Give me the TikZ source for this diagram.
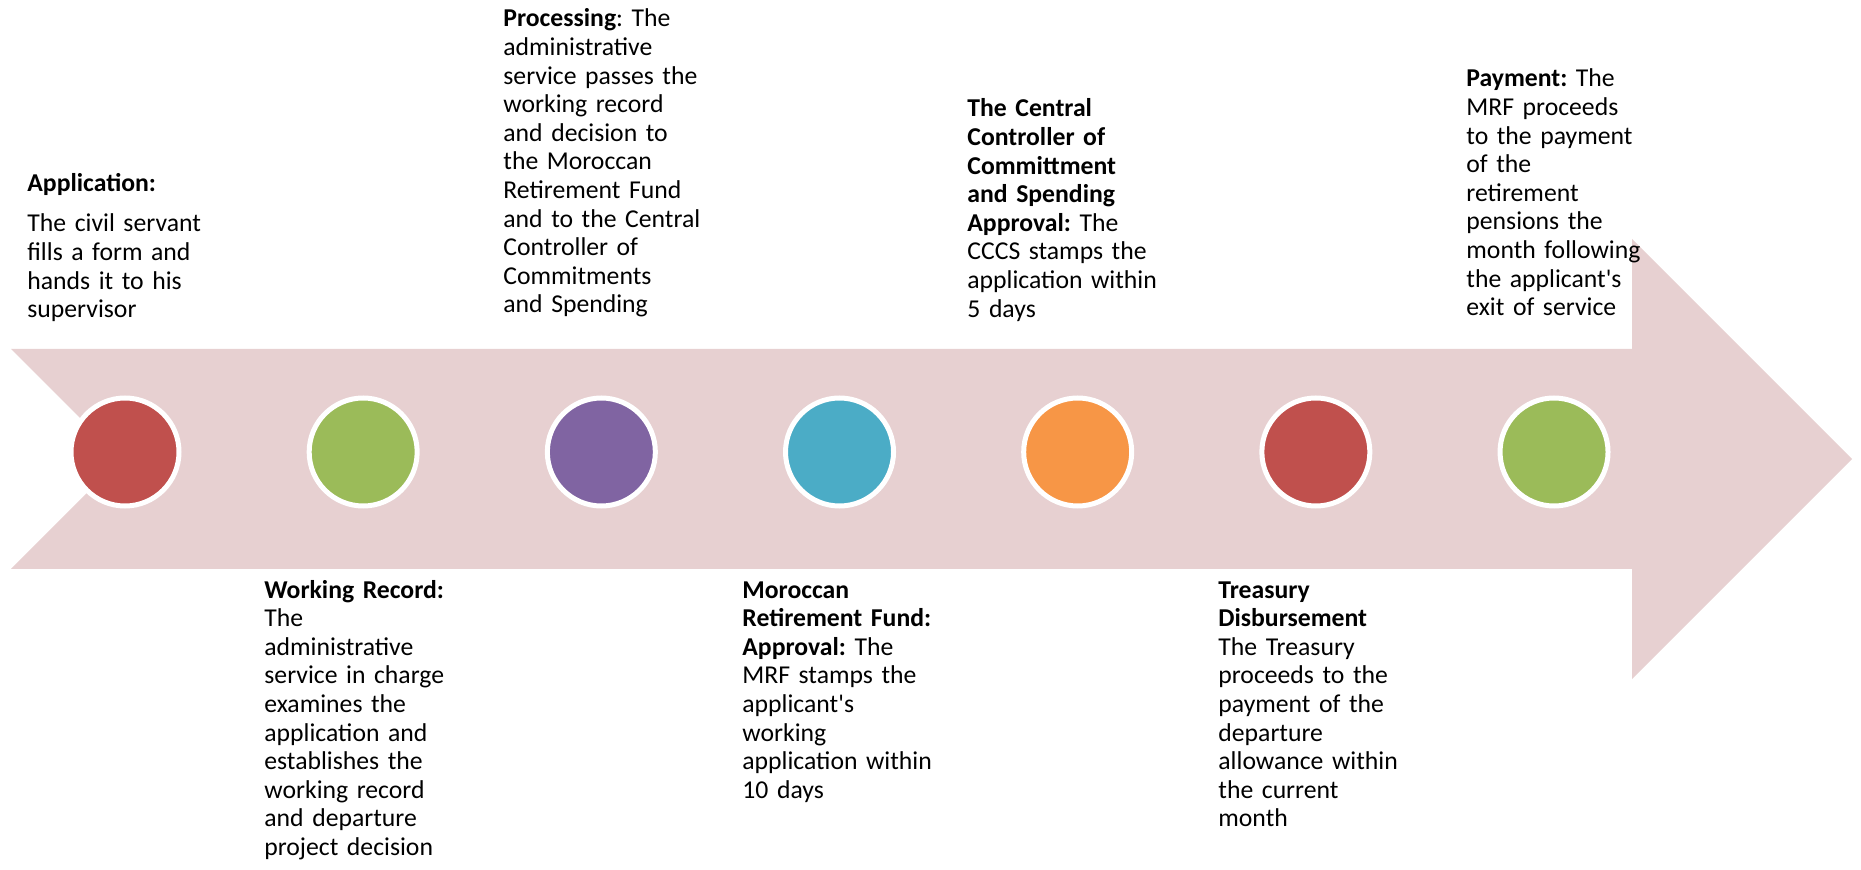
\documentclass[tikz,border=0pt]{standalone}
\usepackage{fontspec}
\setmainfont{Carlito}
\frenchspacing

\definecolor{arrowpink}{RGB}{231,208,209}
\definecolor{dotred}{HTML}{C0504D}
\definecolor{dotgreen}{HTML}{9BBB59}
\definecolor{dotpurple}{HTML}{8064A2}
\definecolor{dotteal}{HTML}{4BACC6}
\definecolor{dotorange}{HTML}{F79646}

\tikzset{
  dot/.style={circle, minimum size=54pt, inner sep=0pt, draw=white, line width=2.5pt},
  steptext/.style={anchor=base west, inner sep=0pt, text width=120pt, align=left,
    font={\fontsize{12.85}{14.3}\selectfont}}
}

\begin{document}
\begin{tikzpicture}[x=0.5pt, y=-0.5pt]
    \useasboundingbox (0,0) rectangle (1861,870);

    % Draw the arrow
    \fill[arrowpink] (11,349) -- (1632,349) -- (1632,239) -- (1852,459)
        -- (1632,679) -- (1632,569) -- (11,569) -- (121,459) -- cycle;

    % Draw one dot for each step
    \foreach \i/\c in {1/dotred, 2/dotgreen, 3/dotpurple, 4/dotteal,
                       5/dotorange, 6/dotred, 7/dotgreen}
        \node[dot, fill=\c] (dot\i) at ({125+238.17*(\i-1)}, 452) {};

    % Draw texts above the arrow
    \node[steptext] (appl) at (27, 192) {\textbf{Application:}\\[5.7pt]
        The civil servant\\fills a form and\\hands it to his\\supervisor};
    \node[steptext] (proc) at (503, 27) {\textbf{Processing}: The\\administrative\\
        service passes the\\working record\\and decision to\\the Moroccan\\
        Retirement Fund\\and to the Central\\Controller of\\Commitments\\and Spending};
    \node[steptext] (cccs) at (967, 117) {\textbf{The Central}\\\textbf{Controller of}\\
        \textbf{Committment}\\\textbf{and Spending}\\\textbf{Approval:} The\\
        CCCS stamps the\\application within\\5 days};
    \node[steptext] (pay) at (1466, 87) {\textbf{Payment:} The\\MRF proceeds\\
        to the payment\\of the\\retirement\\pensions the\\month following\\
        the applicant\textquotesingle s\\exit of service};

    % Draw texts below the arrow
    \node[steptext] (record) at (264, 598) {\textbf{Working Record:}\\The\\
        administrative\\service in charge\\examines the\\application and\\
        establishes the\\working record\\and departure\\project decision};
    \node[steptext] (mrf) at (742, 598) {\textbf{Moroccan}\\\textbf{Retirement Fund:}\\
        \textbf{Approval:} The\\MRF stamps the\\applicant\textquotesingle s\\working\\
        application within\\10 days};
    \node[steptext] (treas) at (1218, 598) {\textbf{Treasury}\\\textbf{Disbursement}\\
        The Treasury\\proceeds to the\\payment of the\\departure\\
        allowance within\\the current\\month};
\end{tikzpicture}
\end{document}
